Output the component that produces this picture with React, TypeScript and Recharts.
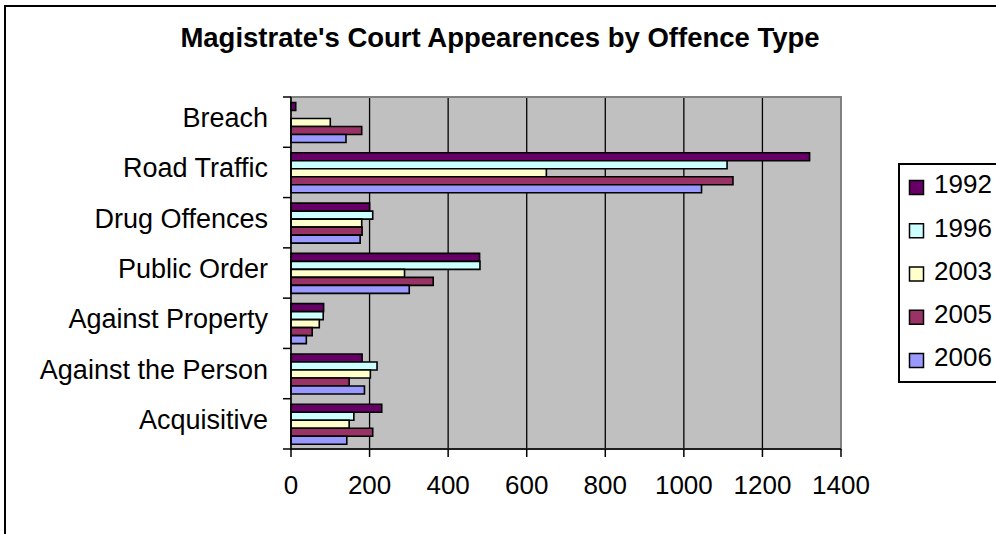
import React from "react";
import { BarChart, Bar, XAxis, YAxis, CartesianGrid, ReferenceArea } from "recharts";

const categories = [
  "Breach",
  "Road Traffic",
  "Drug Offences",
  "Public Order",
  "Against Property",
  "Against the Person",
  "Acquisitive",
];
const years = ["1992", "1996", "2003", "2005", "2006"];
const v1992 = [12, 1320, 200, 480, 83, 181, 231];
const v1996 = [0, 1110, 208, 481, 82, 219, 160];
const v2003 = [100, 650, 180, 289, 72, 202, 148];
const v2005 = [180, 1125, 181, 362, 54, 148, 208];
const v2006 = [140, 1045, 176, 301, 39, 187, 142];
const xTicks = [0, 200, 400, 600, 800, 1000, 1200, 1400];
const gridValues = [200, 400, 600, 800, 1000, 1200];
const title = "Magistrate's Court Appearences by Offence Type";

const colors = ["#660066", "#CCFFFF", "#FFFFCC", "#993366", "#9999FF"];
const FONT = "'Liberation Sans', Arial, sans-serif";

const W = 996;
const H = 534;
const PLOT_LEFT = 291;
const PLOT_TOP = 97;
const PLOT_BOTTOM = 449;
const BAND = (PLOT_BOTTOM - PLOT_TOP) / categories.length;

// category labels + tick marks on the band boundaries (Excel style)
const CategoryTick = (props: any) => {
  const { y, payload, index } = props;
  const last = index === categories.length - 1;
  return (
    <g>
      <line x1={PLOT_LEFT - 8} x2={PLOT_LEFT} y1={y - BAND / 2} y2={y - BAND / 2} stroke="#000" strokeWidth={1.5} />
      {last && (
        <line x1={PLOT_LEFT - 8} x2={PLOT_LEFT} y1={y + BAND / 2} y2={y + BAND / 2} stroke="#000" strokeWidth={1.5} />
      )}
      <text x={PLOT_LEFT - 23} y={y} dy={5} textAnchor="end" fontSize={27} fill="#000" fontFamily={FONT}>
        {payload.value}
      </text>
    </g>
  );
};

export default function App() {
  const series = [v1992, v1996, v2003, v2005, v2006];
  const data = categories.map((c, i) => {
    const row: Record<string, string | number> = { name: c };
    years.forEach((yr, k) => (row["y" + yr] = series[k][i]));
    return row;
  });

  return (
    <div style={{ position: "relative", width: W, height: H, overflow: "hidden", background: "#fff", fontFamily: FONT }}>
      <style>{"body{margin:0}"}</style>
      <svg width={W} height={H} style={{ position: "absolute", left: 0, top: 0 }}>
        <rect x={5} y={6} width={1100} height={700} fill="none" stroke="#000" strokeWidth={2} />
        <text x={500} y={47} textAnchor="middle" fontSize={27.5} fontWeight="bold" fill="#000" fontFamily={FONT}>
          {title}
        </text>
        <rect x={899} y={164} width={200} height={218} fill="#fff" stroke="#000" strokeWidth={2} />
        {years.map((yr, i) => (
          <g key={yr}>
            <rect x={909.5} y={180.5 + i * 43.25} width={14} height={14} fill={colors[i]} stroke="#000" strokeWidth={1.5} />
            <text x={934} y={193.3 + i * 43.25} fontSize={26} fill="#000" fontFamily={FONT}>
              {yr}
            </text>
          </g>
        ))}
      </svg>
      <div style={{ position: "absolute", left: 0, top: 0 }}>
        <BarChart
          width={W}
          height={H}
          data={data}
          layout="vertical"
          margin={{ top: PLOT_TOP, right: W - 841, bottom: H - PLOT_BOTTOM - 40, left: 6 }}
          barCategoryGap="11%"
          barGap={0}
        >
          <CartesianGrid fill="#C0C0C0" horizontal={false} stroke="#000" strokeWidth={1.3} verticalValues={gridValues} />
          <ReferenceArea x1={0} x2={1400} fill="none" stroke="#808080" strokeWidth={2} />
          <XAxis
            type="number"
            domain={[0, 1400]}
            ticks={xTicks}
            interval={0}
            height={40}
            tickSize={8}
            tickMargin={19}
            tick={{ fontSize: 26, fill: "#000", fontFamily: FONT }}
            axisLine={{ stroke: "#000", strokeWidth: 1.5 }}
            tickLine={{ stroke: "#000", strokeWidth: 1.5 }}
          />
          <YAxis
            type="category"
            dataKey="name"
            width={285}
            interval={0}
            tick={<CategoryTick />}
            tickLine={false}
            axisLine={{ stroke: "#000", strokeWidth: 1.5 }}
          />
          {years.map((yr, i) => (
            <Bar
              key={yr}
              dataKey={"y" + yr}
              fill={colors[i]}
              stroke="#000"
              strokeWidth={1.6}
              isAnimationActive={false}
            />
          ))}
        </BarChart>
      </div>
    </div>
  );
}
